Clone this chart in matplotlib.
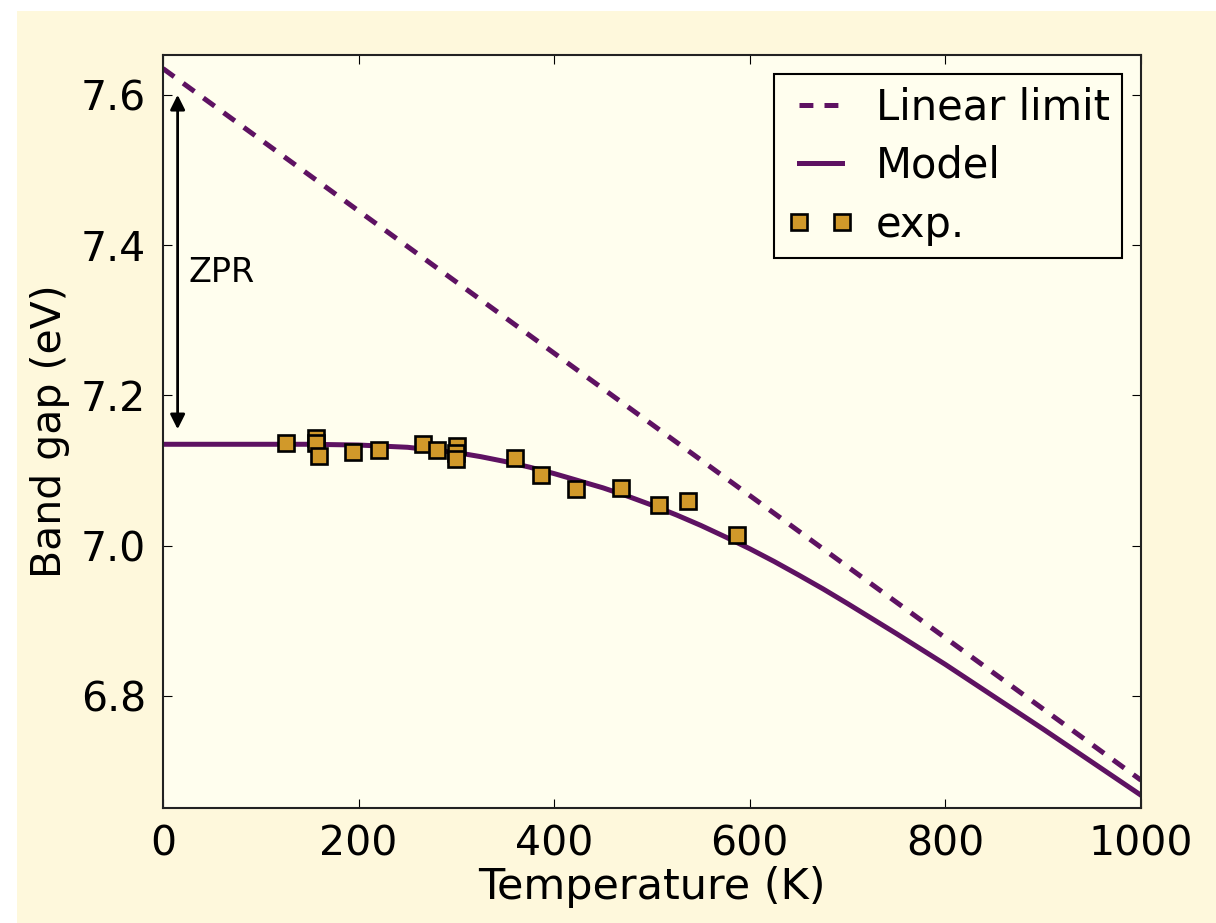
import matplotlib
matplotlib.use('Agg')
import matplotlib.pyplot as plt
from matplotlib.patches import Rectangle

# linear (high-T) limit, two end points
lin_T = [0, 1000]
lin_E = [7.635, 6.688]

# model curve
model_T = [0, 50, 100, 150, 200, 250, 300, 325, 350, 375, 400, 425, 450, 475,
           500, 525, 550, 575, 600, 625, 650, 675, 700, 750, 800, 850, 900,
           950, 1000]
model_E = [7.135, 7.135, 7.135, 7.135, 7.134, 7.131, 7.124, 7.1185, 7.112,
           7.1045, 7.096, 7.0865, 7.077, 7.066, 7.054, 7.041, 7.027, 7.0118,
           6.996, 6.979, 6.961, 6.9425, 6.923, 6.883, 6.842, 6.799, 6.756,
           6.712, 6.668]

# experimental points
exp_T = [125.6, 157, 157, 160, 194.8, 221, 265.4, 280, 301, 300, 300,
         359.6, 386.9, 422.7, 468.5, 507.7, 536.6, 587.2]
exp_E = [7.137, 7.144, 7.137, 7.120, 7.125, 7.127, 7.135, 7.128, 7.133,
         7.123, 7.115, 7.117, 7.094, 7.075, 7.077, 7.054, 7.060, 7.014]

purple = '#5e1262'
gold = '#d1992a'
fs = 29.5

plt.rcParams['font.family'] = 'DejaVu Sans'
plt.rcParams['lines.scale_dashes'] = False

fig = plt.figure(figsize=(12.16, 9.23), dpi=100)
fig.patch.set_facecolor('white')
fig.patches.append(Rectangle((17 / 1216, 0), 1, 1 - 11 / 923, transform=fig.transFigure,
                             facecolor='#fef8dc', edgecolor='none', zorder=-10))

ax = fig.add_axes([0.1340, 0.1246, 0.8043, 0.8158])
ax.set_facecolor('#fffeee')

ax.plot(lin_T, lin_E, color=purple, lw=3.6, linestyle=(0, (10, 8)), label='Linear limit')
ax.plot(model_T, model_E, color=purple, lw=3.6, label='Model')
ax.plot(exp_T, exp_E, linestyle='none', marker='s', markersize=12, markerfacecolor=gold,
        markeredgecolor='black', markeredgewidth=1.9, label='exp.', zorder=5)

ax.annotate('', xy=(15, 7.6), xytext=(15, 7.155),
            arrowprops=dict(arrowstyle='<|-|>', color='black', lw=2, shrinkA=0, shrinkB=0,
                            mutation_scale=22))
ax.text(26, 7.363, 'ZPR', fontsize=24, va='center', ha='left')

ax.set_xlim(0, 1000)
ax.set_ylim(6.651, 7.653)
ax.set_xticks([0, 200, 400, 600, 800, 1000])
ax.set_yticks([6.8, 7.0, 7.2, 7.4, 7.6])
ax.set_yticklabels(['6.8', '7.0', '7.2', '7.4', '7.6'])

ax.tick_params(direction='in', top=True, right=True, length=6.3, width=0.8,
               labelsize=fs, pad=12)
for s in ax.spines.values():
    s.set_linewidth(1.5)
    s.set_color('#222222')

ax.set_xlabel('Temperature (K)', fontsize=31, labelpad=1)
ax.set_ylabel('Band gap (eV)', fontsize=fs, labelpad=8)

leg = ax.legend(loc='upper right', fontsize=fs + 0.5, numpoints=2, handlelength=1.65,
                handletextpad=0.5, borderpad=0.3, labelspacing=0.4, borderaxespad=0.45,
                fancybox=False, framealpha=1)
leg.get_frame().set_edgecolor('black')
leg.get_frame().set_linewidth(1.5)
leg.get_frame().set_facecolor('#fffeee')

fig.savefig('out.png', dpi=100, facecolor=fig.get_facecolor())
